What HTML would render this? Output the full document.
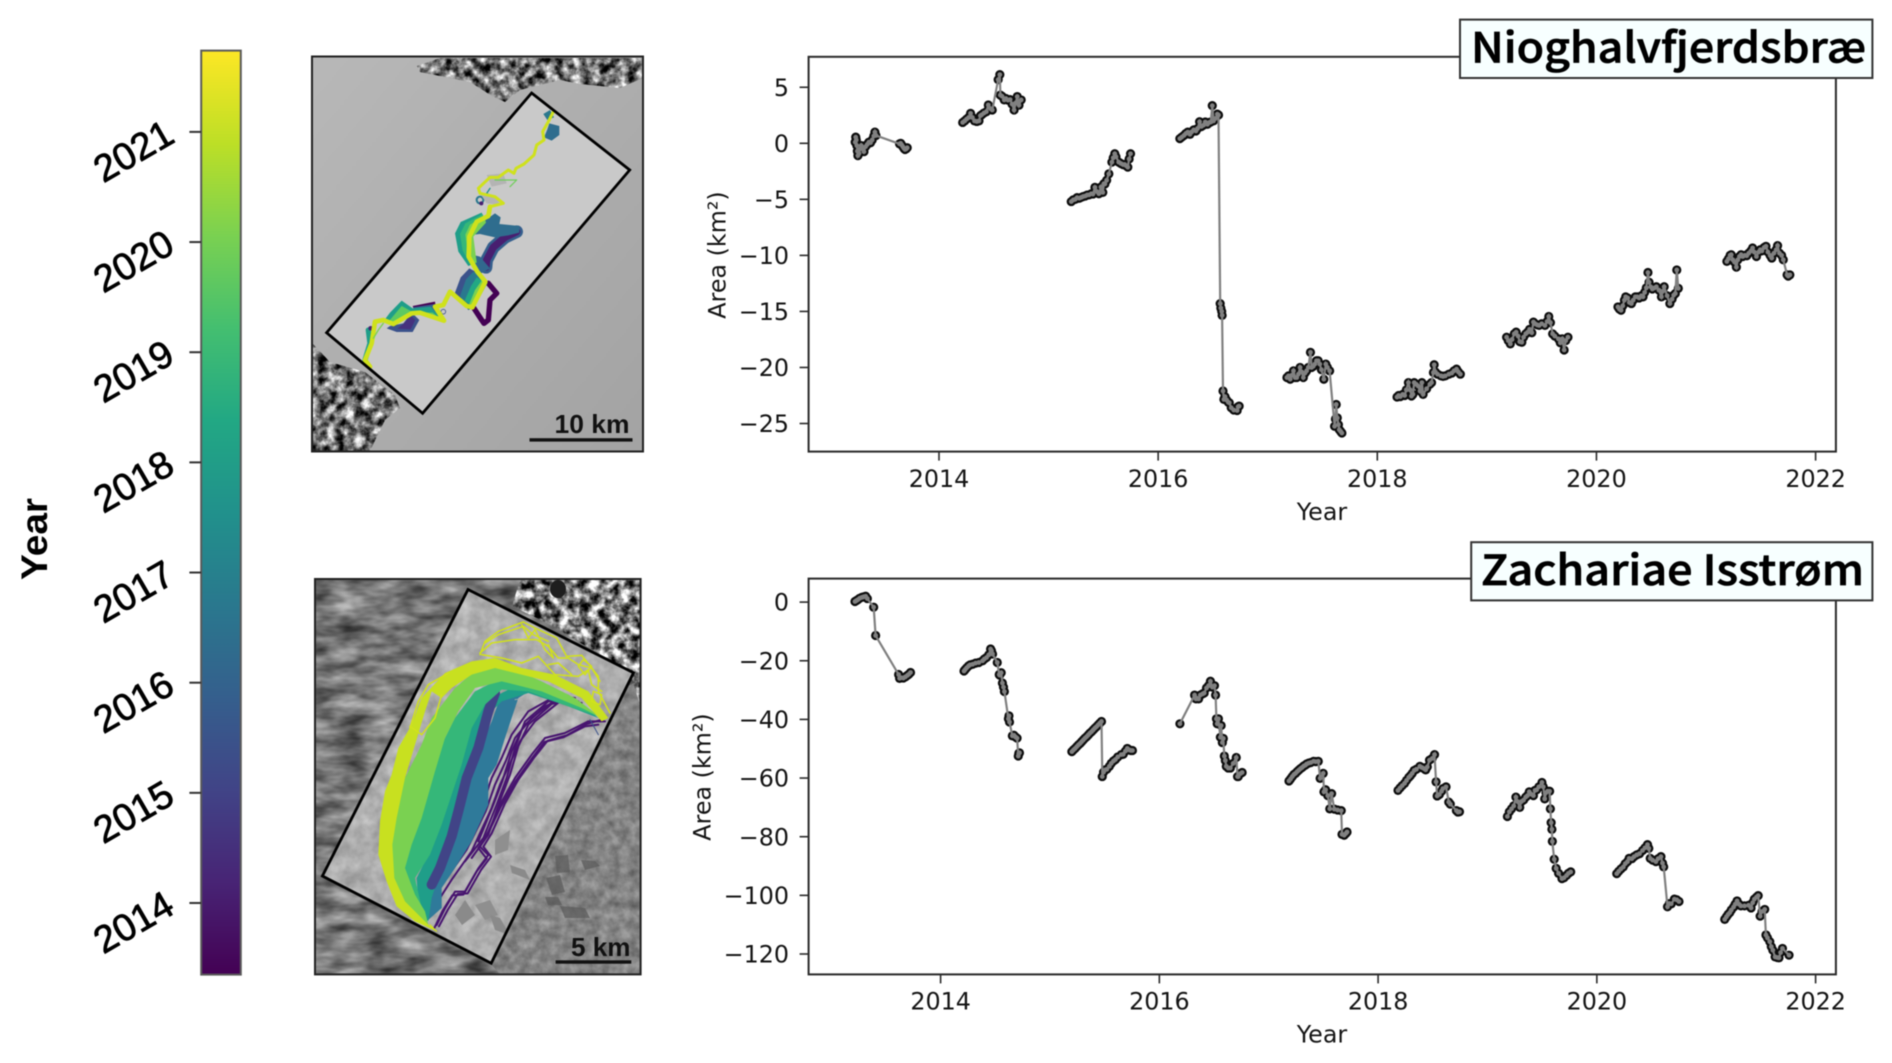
<!DOCTYPE html>
<html lang="en">
<head>
<meta charset="utf-8">
<title>Glacier area change: Nioghalvfjerdsbræ and Zachariae Isstrøm</title>
<style>
html,body{margin:0;padding:0;background:#fff;width:1892px;height:1063px;overflow:hidden}
#figure{display:block;filter:blur(.65px)}
.tick{font-family:"DejaVu Sans",sans-serif;font-size:23.8px;fill:#141414}
.cb{font-family:"Liberation Sans",sans-serif;font-size:38px;fill:#000;stroke:#000;stroke-width:.8}
.ttl{font-family:"Noto Sans CJK JP","DejaVu Sans",sans-serif;font-size:41.5px;font-weight:500;fill:#000;stroke:#000;stroke-width:.7}
.sb{font-family:"Liberation Sans",sans-serif;font-weight:700;font-size:26px;fill:#111}
</style>
</head>
<body>
<svg id="figure" xmlns="http://www.w3.org/2000/svg" width="1892" height="1063" viewBox="0 0 1892 1063">
<defs>
<linearGradient id="viridis" x1="0" y1="1" x2="0" y2="0">
<stop offset="0" stop-color="#440154"/><stop offset=".1" stop-color="#482475"/><stop offset=".2" stop-color="#414487"/><stop offset=".3" stop-color="#355f8d"/><stop offset=".4" stop-color="#2a788e"/><stop offset=".5" stop-color="#21918c"/><stop offset=".6" stop-color="#22a884"/><stop offset=".7" stop-color="#44bf70"/><stop offset=".8" stop-color="#7ad151"/><stop offset=".9" stop-color="#bddf26"/><stop offset="1" stop-color="#fde725"/>
</linearGradient>
<linearGradient id="topBg" x1="0" y1="0" x2="1" y2="1">
<stop offset="0" stop-color="#b8b8b8"/><stop offset="1" stop-color="#a3a3a3"/>
</linearGradient>
<filter id="noiseRidge" x="0" y="0" width="100%" height="100%" color-interpolation-filters="sRGB">
<feTurbulence type="fractalNoise" baseFrequency=".11" numOctaves="4" seed="4"/>
<feColorMatrix values="1.8 0 0 0 -.44  1.8 0 0 0 -.44  1.8 0 0 0 -.44  0 0 0 0 1"/>
</filter>
<filter id="noiseRidgeHard" x="0" y="0" width="100%" height="100%" color-interpolation-filters="sRGB">
<feTurbulence type="fractalNoise" baseFrequency=".1" numOctaves="4" seed="12"/>
<feColorMatrix values="2.3 0 0 0 -.66  2.3 0 0 0 -.66  2.3 0 0 0 -.66  0 0 0 0 1"/>
</filter>
<filter id="noiseStreak" x="0" y="0" width="100%" height="100%" color-interpolation-filters="sRGB">
<feTurbulence type="fractalNoise" baseFrequency=".03 .08" numOctaves="3" seed="9"/>
<feColorMatrix values=".75 0 0 0 .09  .75 0 0 0 .09  .75 0 0 0 .09  0 0 0 0 1"/>
</filter>
<filter id="noiseInner" x="0" y="0" width="100%" height="100%" color-interpolation-filters="sRGB">
<feTurbulence type="fractalNoise" baseFrequency=".07" numOctaves="3" seed="2"/>
<feColorMatrix values=".28 0 0 0 .54  .28 0 0 0 .54  .28 0 0 0 .54  0 0 0 0 1"/>
</filter>
<filter id="noiseSE" x="0" y="0" width="100%" height="100%" color-interpolation-filters="sRGB">
<feTurbulence type="fractalNoise" baseFrequency=".1" numOctaves="3" seed="6"/>
<feColorMatrix values=".35 0 0 0 .34  .35 0 0 0 .34  .35 0 0 0 .34  0 0 0 0 1"/>
</filter>
<clipPath id="clipTop"><polygon points="531.6,93 629.7,170 422.6,413.3 326.6,332.7"/></clipPath>
<clipPath id="clipBot"><polygon points="468,589.5 633.5,672.8 491.2,963.2 322.4,876"/></clipPath>
<clipPath id="clipRidgeA"><polygon points="417,66 440,58 643,58 643,78 620,88 580,84 560,80 520,90 505,102 492,96 470,82 440,76 420,72"/></clipPath>
<clipPath id="clipRidgeB"><polygon points="313,344 330,362 365,372 395,395 400,408 385,420 370,451 313,451"/></clipPath>
<clipPath id="clipRidgeC"><polygon points="520,580 640,580 640,705 630,672 545,622 512,606"/></clipPath>
<clipPath id="clipSE"><polygon points="640,680 640,974 500,974 490,963 620,690"/></clipPath>
</defs>
<rect x="0" y="0" width="1892" height="1063" fill="#ffffff"/>

<g id="colorbar">
<rect x="201.2" y="50.6" width="39.6" height="924" fill="url(#viridis)" stroke="#5a5a5a" stroke-width="2"/>
<text transform="translate(47,539) rotate(-90)" text-anchor="middle" font-family="Liberation Sans, sans-serif" font-weight="700" font-size="37" fill="#000" textLength="82" lengthAdjust="spacingAndGlyphs">Year</text>
</g>

<g id="top-map">
<rect x="312" y="56" width="331" height="396" fill="url(#topBg)"/>
<rect x="312" y="56" width="331" height="396" filter="url(#noiseRidge)" clip-path="url(#clipRidgeA)"/>
<rect x="312" y="340" width="110" height="112" filter="url(#noiseRidge)" clip-path="url(#clipRidgeB)"/>
<polygon points="531.6,93 629.7,170 422.6,413.3 326.6,332.7" fill="#c9c9c9"/>
<g clip-path="url(#clipTop)">
<g transform="translate(340,90) scale(.33333)" fill="none" stroke-linejoin="round" stroke-linecap="round">
<polygon points="610,72 630,60 642,82 622,90" fill="#2a788e"/>
<polygon points="628,100 658,108 658,135 635,152 612,142 622,118" fill="#2f6d8e"/>
<circle cx="420" cy="330" r="10" stroke="#2a788e" stroke-width="6"/>
<circle cx="424" cy="340" r="6" fill="#481f70"/>
<polygon points="440,255 490,250 500,280 455,290" fill="#b4b4b4"/>
<polygon points="420,310 470,320 480,345 440,340" fill="#b4b4b4"/>
<polyline points="465,270 530,270 510,290" stroke="#6ece58" stroke-width="3.5"/>
<polyline points="450,295 440,310 455,320" stroke="#21918c" stroke-width="4"/>
<polyline points="530,425 495,442 460,472 440,510 438,532" stroke="#355f8d" stroke-width="38"/>
<polyline points="530,425 495,442 460,472 440,510 438,532" stroke="#481f70" stroke-width="22"/>
<polygon points="392,435 415,405 465,370 482,382 478,402 538,408 538,428 505,436 465,442 420,432" fill="#2f6d8e"/>
<polygon points="396,494 420,500 450,535 420,552 400,532" fill="#31688e"/>
<polygon points="425,368 362,396 345,430 355,485 385,528 410,518 396,440 436,395" fill="#1f9e89"/>
<polygon points="428,372 376,400 360,432 368,482 392,524 410,518 398,440 436,396" fill="#35b779"/>
<polygon points="432,378 390,404 376,434 382,478 398,520 410,518 400,440 438,398" fill="#7ad151"/>
<polyline points="400,652 425,690 432,700 445,690 450,630 470,610 445,580" stroke="#440154" stroke-width="16"/>
<polygon points="345,608 362,562 388,535 412,548 442,580 402,652 385,660" fill="#3b528b"/>
<polygon points="360,618 378,568 400,545 422,555 442,580 402,652 385,660" fill="#2a788e"/>
<polygon points="374,632 393,588 410,562 442,580 402,652" fill="#22a884"/>
<polygon points="388,642 405,600 425,572 442,580 402,652" fill="#7ad151"/>
<polygon points="218,648 285,635 288,656 225,665" fill="#440154"/>
<polygon points="140,715 170,726 218,726 238,690 215,668 190,700 150,708" fill="#3b528b"/>
<polygon points="172,716 212,718 226,690 212,676 190,702" fill="#46327e"/>
<polygon points="218,652 285,642 306,690 235,668" fill="#355f8d"/>
<polygon points="132,692 150,668 185,632 218,655 272,650 310,694 240,670 215,672 165,704" fill="#1f9e89"/>
<polygon points="148,692 185,648 218,666 278,668 310,694 240,672 215,674 168,704" fill="#5ec962"/>
<polyline points="85,720 90,760 75,810" stroke="#1f9e89" stroke-width="16"/>
<circle cx="92" cy="715" r="7" fill="#481f70"/>
<circle cx="310" cy="665" r="7" stroke="#3b528b" stroke-width="2.5"/>
<polyline points="640,65 625,95 608,125 612,150 590,165 582,195 552,222 528,235 522,250 505,240 475,262 450,262 415,295 420,310 465,320 490,340 450,350" stroke="#cfe11c" stroke-width="9"/>
<polyline points="450,350 445,378 410,395 388,440 386,500 412,545 436,575 397,652 380,648 330,605 310,645 285,650 312,692 240,668 215,670 160,702 130,690 105,695 95,760 75,810 90,830" stroke="#cfe11c" stroke-width="14"/>
<polyline points="130,700 115,720 100,745" stroke="#7ad151" stroke-width="4"/>
</g>
</g>
<polygon points="531.6,93 629.7,170 422.6,413.3 326.6,332.7" fill="none" stroke="#000" stroke-width="2.8"/>
<rect x="312" y="56.5" width="331" height="395" fill="none" stroke="#222" stroke-width="2"/>
<text class="sb" x="554.5" y="433" textLength="75" lengthAdjust="spacingAndGlyphs">10 km</text>
<rect x="529.5" y="438.2" width="103" height="3.4" fill="#111"/>
</g>

<g id="bottom-map">
<rect x="315" y="579" width="326" height="396" filter="url(#noiseStreak)"/>
<rect x="490" y="680" width="151" height="295" filter="url(#noiseSE)" clip-path="url(#clipSE)"/>
<rect x="510" y="579" width="131" height="130" filter="url(#noiseRidgeHard)" clip-path="url(#clipRidgeC)"/>
<ellipse cx="558" cy="589" rx="8" ry="9" fill="#1e1e1e"/>
<g fill="#5c5c5c" opacity=".75">
<polygon points="555,856 568,855 570,872 557,873"/>
<polygon points="581,860 595,861 600,866 585,870"/>
<polygon points="546,878 560,875 565,892 552,895"/>
<polygon points="560,906 585,908 590,918 565,918"/>
<polygon points="545,897 558,897 562,905 548,905"/>
</g>
<polygon points="468,589.5 633.5,672.8 491.2,963.2 322.4,876" fill="#aaa"/>
<rect x="320" y="585" width="316" height="382" filter="url(#noiseInner)" clip-path="url(#clipBot)"/>
<g clip-path="url(#clipBot)">
<polygon points="495,840 510,830 508,850 495,855" fill="#8f8f8f"/>
<polygon points="510,865 525,870 530,880 512,873" fill="#8a8a8a"/>
<polygon points="455,915 465,900 475,915 462,925" fill="#8a8a8a"/>
<polygon points="475,905 490,900 498,915 485,920" fill="#8f8f8f"/>
<polygon points="490,915 500,918 510,935 495,930" fill="#8a8a8a"/>
</g>
<g clip-path="url(#clipBot)">
<g transform="translate(315,578) scale(.33333)" fill="none" stroke-linejoin="round" stroke-linecap="round">
<g stroke="#47146f" stroke-width="6">
<polyline points="780,360 720,355 640,400 590,470 560,540 530,600 500,691 440,811 380,891 350,931"/>
<polyline points="790,370 725,362 650,420 600,480 572,550 540,620 512,700 455,815 395,900 360,950"/>
<polyline points="800,375 735,370 660,430 615,490 590,545 555,620 530,690 470,820 410,905 375,960"/>
<polyline points="760,365 700,370 630,430 600,510 575,600 545,680 505,780 450,850"/>
<polyline points="770,362 710,378 640,440 610,505 585,590 558,660 520,770 470,840"/>
<polyline points="750,360 690,385 625,445 590,520 562,610 535,680 490,790"/>
<polyline points="870,430 820,430 750,465 690,480 650,530 600,600 560,671 520,761 495,806 520,831 490,871 450,941 420,941 390,991 365,1041"/>
<polyline points="860,425 815,438 755,472 698,488 658,538 610,605 570,676 530,766 505,806 528,836 498,876 458,946 428,948 398,996 372,1045"/>
<polyline points="850,440 810,445 745,478 688,492 648,545 600,612 558,685 515,775 490,810 515,842 485,880 445,950 412,952 382,1000 358,1050"/>
</g>
<polyline points="825,425 850,470" stroke="#3b528b" stroke-width="3"/>
<polygon points="335,1030 335,985 320,930 350,890 385,830 420,770 440,680 460,600 500,500 530,430 555,360 640,320 760,350 850,420 760,375 650,335 610,360 590,420 570,480 545,560 520,600 520,680 470,790 420,870 380,930 380,990" fill="#2f7a9a"/>
<polyline points="600,365 630,360 640,375 610,385" stroke="#aaa" stroke-width="2.5"/>
<polygon points="340,1030 310,990 305,900 340,830 340,700 400,590 430,520 470,420 520,365 600,325 700,345 800,380 850,420 760,385 640,345 560,370 530,400 490,510 450,610 420,730 410,800 375,880 350,960" fill="#1f9e89"/>
<polyline points="540,345 520,400 490,510 455,600 430,700 410,775 375,870 350,920" stroke="#414487" stroke-width="30"/>
<polygon points="330,1030 300,980 265,900 265,860 300,750 330,640 370,520 420,420 480,340 560,300 660,330 760,370 850,415 760,385 640,340 560,335 510,380 470,450 440,560 410,650 380,740 345,830 300,900 320,990" fill="#35b779"/>
<polygon points="340,1040 290,1000 240,950 225,890 225,800 235,720 270,600 320,500 350,420 420,330 490,270 580,265 680,310 780,360 860,420 800,390 680,340 560,310 480,330 430,400 390,480 360,580 320,720 290,800 270,870 300,950 330,1000" fill="#7ad151"/>
<polygon points="360,1058 300,1030 245,985 215,910 190,830 195,730 210,640 230,590 250,510 290,440 320,360 390,285 470,250 540,240 620,270 720,290 820,340 880,420 860,430 800,360 700,310 620,290 540,270 470,290 410,330 380,360 350,340 330,400 300,500 270,600 245,720 232,800 238,900 270,970 330,1030" fill="#c8e020"/>
<g stroke="#d2e21b" stroke-width="4.5">
<polyline points="495,230 510,190 550,160 625,132 660,150 725,180 755,235 800,232 850,295 850,340 885,405"/>
<polyline points="495,225 530,195 600,185 665,185 700,205 730,240 760,240 790,260 830,270 855,310"/>
<polyline points="510,195 550,170 625,145 655,170 700,190"/>
<polyline points="620,140 640,180 660,155 690,215 715,240 700,200"/>
<polyline points="500,230 560,240 620,255 670,235 720,290 790,295 820,275 830,320 860,340"/>
<polyline points="700,260 730,255 770,290"/>
<polyline points="285,450 310,370 340,320 400,285"/>
<polyline points="285,445 320,470 360,420 380,350"/>
<polygon points="805,245 830,265 810,290 790,265"/>
<polygon points="835,340 860,350 855,380 830,370"/>
</g>
<polyline points="345,1040 365,1060 345,1045" stroke="#d2e21b" stroke-width="3"/>
</g>
</g>
<polygon points="468,589.5 633.5,672.8 491.2,963.2 322.4,876" fill="none" stroke="#000" stroke-width="2.8"/>
<rect x="315" y="579" width="325.6" height="395.4" fill="none" stroke="#222" stroke-width="2"/>
<text class="sb" x="571" y="956" textLength="59.5" lengthAdjust="spacingAndGlyphs">5 km</text>
<rect x="555.6" y="960.3" width="75.7" height="3.4" fill="#111"/>
</g>

<g id="top-chart"></g>
<g id="bottom-chart"></g>

<g>
<rect x="1460" y="19.6" width="412.4" height="58.4" fill="#f7ffff" stroke="#333" stroke-width="2"/>
<text class="ttl" x="1471" y="62.5" textLength="395" lengthAdjust="spacingAndGlyphs">Nioghalvfjerdsbræ</text>
</g>
<g>
<rect x="1471.2" y="542.2" width="401.2" height="58.2" fill="#f7ffff" stroke="#333" stroke-width="2"/>
<text class="ttl" x="1481" y="585" textLength="383" lengthAdjust="spacingAndGlyphs">Zachariae Isstrøm</text>
</g>
</svg>

<script>
// Chart data. A gap of more than 0.3 yr between dates starts a new melt season.
const colorbarYears = [2014, 2015, 2016, 2017, 2018, 2019, 2020, 2021];
const xTickYears = [2014, 2016, 2018, 2020, 2022];
const nioYTicks = [5, 0, -5, -10, -15, -20, -25];
const zachYTicks = [0, -20, -40, -60, -80, -100, -120];

const nioDates = [
2013.235,2013.24,2013.245,2013.25,2013.255,2013.26,2013.27,2013.28,2013.29,2013.30,2013.315,2013.33,2013.345,2013.36,2013.375,2013.39,2013.405,2013.415,2013.425,2013.64,2013.65,2013.66,2013.67,2013.68,2013.69,2013.70,2013.71,
2014.216,2014.235,2014.252,2014.27,2014.288,2014.305,2014.324,2014.345,2014.365,2014.378,2014.39,2014.41,2014.432,2014.45,2014.468,2014.486,2014.54,2014.555,2014.56,2014.575,2014.595,2014.61,2014.63,2014.649,2014.667,2014.685,2014.70,2014.714,2014.73,2014.75,
2015.207,2015.225,2015.243,2015.26,2015.28,2015.297,2015.315,2015.335,2015.351,2015.37,2015.39,2015.405,2015.423,2015.44,2015.459,2015.478,2015.495,2015.505,2015.514,2015.53,2015.55,2015.578,2015.59,2015.604,2015.615,2015.64,2015.66,2015.68,2015.694,2015.708,2015.723,2015.735,2015.748,
2016.198,2016.215,2016.235,2016.252,2016.27,2016.29,2016.306,2016.325,2016.345,2016.36,2016.378,2016.395,2016.414,2016.43,2016.45,2016.468,2016.48,2016.494,2016.505,2016.523,2016.54,2016.551,2016.566,2016.572,2016.58,2016.584,2016.592,2016.60,2016.61,2016.625,2016.64,2016.649,2016.667,2016.69,2016.721,2016.73,2016.739,
2017.175,2017.19,2017.205,2017.22,2017.235,2017.25,2017.265,2017.28,2017.295,2017.31,2017.325,2017.34,2017.355,2017.37,2017.39,2017.40,2017.415,2017.43,2017.445,2017.46,2017.475,2017.49,2017.512,2017.53,2017.545,2017.565,2017.61,2017.618,2017.625,2017.635,2017.645,2017.653,2017.665,2017.677,
2018.18,2018.195,2018.21,2018.232,2018.25,2018.265,2018.284,2018.30,2018.312,2018.325,2018.337,2018.355,2018.372,2018.39,2018.407,2018.418,2018.45,2018.48,2018.495,2018.512,2018.519,2018.53,2018.55,2018.582,2018.60,2018.62,2018.653,2018.68,2018.70,2018.723,2018.74,2018.758,
2019.18,2019.195,2019.214,2019.23,2019.25,2019.267,2019.285,2019.30,2019.319,2019.335,2019.355,2019.372,2019.39,2019.41,2019.425,2019.44,2019.46,2019.477,2019.50,2019.53,2019.55,2019.565,2019.58,2019.60,2019.62,2019.653,2019.67,2019.688,2019.705,2019.72,2019.74,
2020.196,2020.21,2020.225,2020.24,2020.255,2020.267,2020.285,2020.30,2020.319,2020.335,2020.355,2020.372,2020.39,2020.41,2020.425,2020.44,2020.455,2020.47,2020.48,2020.495,2020.51,2020.53,2020.547,2020.57,2020.593,2020.605,2020.618,2020.645,2020.67,2020.69,2020.705,2020.72,2020.733,2020.747,
2021.19,2021.205,2021.22,2021.23,2021.245,2021.26,2021.277,2021.29,2021.305,2021.32,2021.335,2021.355,2021.372,2021.39,2021.41,2021.425,2021.44,2021.46,2021.48,2021.495,2021.51,2021.53,2021.547,2021.565,2021.585,2021.60,2021.62,2021.64,2021.653,2021.67,2021.69,2021.705,2021.74,2021.75,2021.765
];
const nioAreas = [
0.1,0.55,0.3,-0.2,-0.7,-1.1,-0.9,-0.5,-0.2,-0.45,-0.75,-0.3,-0.1,0.1,0.05,0.3,0.65,1.0,0.7,-0.05,0.0,-0.15,-0.3,-0.45,-0.55,-0.5,-0.4,
1.86,2.0,2.16,2.3,2.67,2.3,2.0,1.95,2.0,2.46,2.55,2.7,2.82,3.42,3.1,2.97,5.68,6.13,4.3,4.2,3.87,4.0,3.85,3.9,3.5,2.97,3.6,4.17,3.4,3.87,
-5.2,-5.05,-5.0,-4.85,-4.9,-4.83,-4.75,-4.7,-4.62,-4.6,-4.5,-4.53,-3.93,-4.3,-4.5,-3.9,-4.38,-3.6,-3.63,-3.3,-2.73,-1.68,-1.3,-0.93,-1.2,-1.68,-1.8,-1.9,-1.89,-2.0,-2.13,-1.4,-0.93,
0.42,0.55,0.7,0.87,1.0,0.8,1.02,1.2,1.1,1.32,1.92,1.5,1.62,1.9,1.7,1.86,1.9,3.36,2.0,2.22,2.6,2.52,-14.3,-14.7,-15.0,-15.35,-22.1,-22.85,-22.6,-22.9,-23.1,-23.15,-23.6,-23.8,-23.84,-23.5,-23.45,
-20.9,-20.75,-21.05,-20.7,-20.3,-20.9,-20.9,-20.6,-20.0,-20.4,-20.9,-20.5,-20.3,-20.0,-18.65,-20.0,-19.9,-19.7,-19.4,-19.4,-19.7,-20.2,-21.05,-19.7,-20.0,-20.3,-25.25,-24.6,-23.3,-24.5,-25.1,-25.55,-25.7,-25.85,
-22.64,-22.5,-22.6,-22.4,-22.5,-22.0,-21.35,-22.0,-22.55,-22.4,-21.35,-21.5,-21.65,-22.1,-21.35,-22.4,-21.9,-21.5,-21.35,-20.45,-19.76,-20.4,-20.6,-20.75,-20.8,-20.75,-20.6,-20.5,-20.3,-20.15,-20.4,-20.6,
-17.3,-17.6,-17.9,-17.5,-17.0,-16.85,-17.2,-17.7,-17.75,-17.3,-17.0,-16.85,-16.6,-16.9,-15.95,-16.1,-16.2,-16.25,-16.1,-16.25,-15.9,-15.45,-16.0,-17.0,-17.2,-17.45,-17.8,-17.45,-18.44,-17.6,-17.3,
-14.6,-14.8,-14.9,-14.5,-14.0,-13.7,-13.8,-14.2,-14.3,-14.0,-13.7,-13.7,-13.8,-13.6,-13.7,-13.3,-12.9,-11.53,-12.4,-12.8,-13.0,-12.9,-12.8,-13.1,-13.7,-13.2,-12.8,-13.6,-14.3,-13.9,-13.55,-13.4,-11.3,-12.94,
-10.54,-10.3,-10.0,-9.94,-10.4,-10.6,-11.05,-10.4,-10.1,-9.94,-10.1,-10.0,-10.03,-9.8,-9.6,-9.34,-9.7,-10.1,-9.7,-9.5,-9.6,-9.3,-9.19,-9.7,-10.0,-10.24,-9.8,-9.5,-9.13,-9.8,-10.0,-10.39,-11.74,-11.85,-11.74
];

const zachDates = [
2013.217,2013.23,2013.243,2013.26,2013.279,2013.297,2013.315,2013.33,2013.388,2013.406,2013.616,2013.625,2013.641,2013.66,2013.678,2013.696,2013.71,2013.725,
2014.214,2014.225,2014.239,2014.255,2014.27,2014.293,2014.32,2014.35,2014.384,2014.40,2014.42,2014.44,2014.457,2014.465,2014.475,2014.518,2014.536,2014.54,2014.554,2014.565,2014.575,2014.583,2014.62,2014.625,2014.63,2014.656,2014.67,2014.685,2014.699,2014.71,2014.715,2014.721,
2015.2,2015.215,2015.23,2015.245,2015.26,2015.275,2015.29,2015.305,2015.32,2015.335,2015.35,2015.365,2015.38,2015.395,2015.41,2015.425,2015.44,2015.455,2015.471,2015.478,2015.49,2015.505,2015.52,2015.543,2015.56,2015.58,2015.598,2015.62,2015.652,2015.67,2015.69,2015.707,2015.725,2015.74,2015.754,
2016.188,2016.322,2016.335,2016.345,2016.359,2016.375,2016.395,2016.41,2016.431,2016.45,2016.467,2016.485,2016.504,2016.514,2016.522,2016.529,2016.54,2016.558,2016.565,2016.576,2016.585,2016.594,2016.603,2016.612,2016.63,2016.649,2016.675,2016.703,2016.715,2016.721,2016.74,2016.757,
2017.185,2017.2,2017.215,2017.23,2017.245,2017.26,2017.275,2017.29,2017.305,2017.32,2017.335,2017.347,2017.365,2017.385,2017.41,2017.43,2017.453,2017.47,2017.498,2017.505,2017.52,2017.54,2017.558,2017.575,2017.6,2017.63,2017.663,2017.67,2017.69,2017.705,2017.716,
2018.182,2018.2,2018.22,2018.242,2018.26,2018.28,2018.295,2018.312,2018.33,2018.35,2018.382,2018.40,2018.42,2018.435,2018.45,2018.47,2018.495,2018.516,2018.53,2018.54,2018.56,2018.58,2018.593,2018.621,2018.646,2018.66,2018.716,2018.73,2018.744,
2019.182,2019.2,2019.22,2019.24,2019.26,2019.275,2019.295,2019.31,2019.33,2019.35,2019.365,2019.382,2019.40,2019.42,2019.435,2019.45,2019.47,2019.498,2019.51,2019.523,2019.535,2019.55,2019.568,2019.575,2019.582,2019.589,2019.593,2019.61,2019.628,2019.65,2019.681,2019.70,2019.723,2019.74,2019.761,
2020.182,2020.2,2020.22,2020.242,2020.26,2020.28,2020.295,2020.32,2020.34,2020.365,2020.39,2020.418,2020.44,2020.463,2020.475,2020.488,2020.51,2020.54,2020.56,2020.586,2020.6,2020.611,2020.646,2020.663,2020.68,2020.709,2020.73,2020.751,
2021.169,2021.185,2021.2,2021.215,2021.229,2021.25,2021.265,2021.282,2021.3,2021.317,2021.35,2021.387,2021.41,2021.425,2021.44,2021.46,2021.475,2021.493,2021.51,2021.535,2021.546,2021.56,2021.581,2021.595,2021.609,2021.63,2021.651,2021.665,2021.68,2021.697,2021.757
];
const zachAreas = [
0.2,0.5,0.8,1.3,1.6,1.8,2.0,1.2,-1.74,-11.4,-24.7,-26,-25.8,-25.9,-25.5,-25,-24.6,-24,
-23.5,-23,-22.4,-21.8,-21.4,-21.2,-20.8,-20.6,-20,-19.4,-18.9,-18,-16,-16.6,-17.7,-20.6,-24.7,-24.9,-24.1,-27.6,-29,-30.5,-39.8,-38.8,-40.9,-45.6,-45.4,-46,-46.4,-52.5,-51.6,-51.4,
-51,-50.4,-49.9,-49.3,-48.7,-48.2,-47.6,-47,-46.4,-45.9,-45.3,-44.7,-44.2,-43.6,-43,-42.5,-41.9,-41.3,-40.7,-59.5,-58,-57.2,-57,-56,-55,-54.2,-53.7,-52.8,-52,-51.9,-50.8,-49.9,-50.4,-50.6,-50.6,
-41.5,-31.7,-33,-32.8,-33,-31.7,-31.3,-31,-29.3,-28.5,-27,-29,-28.5,-31.7,-39.8,-41.5,-39.8,-46.1,-42.1,-47.9,-46.5,-52.5,-54,-56,-56.6,-56.6,-55,-53,-59.5,-59.5,-58.5,-58.1,
-61,-60.3,-59.5,-58.8,-58.4,-57.8,-57.3,-56.8,-56.4,-55.9,-55.6,-55.2,-54.9,-54.7,-54.3,-54.4,-54.3,-60.1,-58.4,-64.7,-64,-66,-70.5,-65.3,-70.6,-70.9,-71.1,-79.2,-79.5,-78.9,-78.4,
-64.2,-63.4,-62.6,-61.8,-60.8,-59.8,-59.2,-58.4,-57.4,-57,-56,-56.4,-56.8,-57.2,-56.2,-53.9,-53.3,-52,-61.3,-66.1,-65.6,-64.5,-63.6,-63,-68.2,-68.9,-71.1,-71.6,-71.5,
-73.1,-71.5,-70.5,-69.5,-66.5,-68,-70,-68,-67.5,-66.5,-66,-64.7,-65.5,-66,-64.2,-64,-63,-61.5,-63,-67.1,-65,-64.5,-64.5,-70.5,-75.2,-77.5,-81.6,-87.7,-90.8,-92.5,-94.3,-94,-93.2,-92.5,-92,
-92.6,-91.8,-91,-90.3,-89.2,-88.5,-87.4,-87.5,-86.8,-86.2,-85.8,-84.7,-83.8,-82.7,-84,-87.4,-88,-88.5,-87.5,-86.8,-89,-90.3,-103.9,-102.8,-102.9,-101.3,-101.5,-102.1,
-108.2,-107.3,-106.5,-105.9,-105,-104,-103,-101.9,-103,-103.6,-103.6,-103.4,-104.3,-102.5,-101.3,-100.6,-100.1,-107.1,-105.5,-104.8,-113.5,-114.5,-115.8,-117.5,-118.7,-121,-121.2,-121.3,-119.5,-118.1,-120.4
];

const SVGNS = 'http://www.w3.org/2000/svg';
function make(parent, tag, props, text) {
  const el = document.createElementNS(SVGNS, tag);
  for (const k in props) el.setAttribute(k, props[k]);
  if (text !== undefined) el.textContent = text;
  parent.appendChild(el);
  return el;
}
function linear(d0, r0, d1, r1) {
  return function (v) { return r0 + (v - d0) * (r1 - r0) / (d1 - d0); };
}
function fmt(v) { return String(v).replace('-', '\u2212'); }

// Colour bar ticks and labels
const cbY = linear(2014, 903, 2021, 131.9);
const cbGroup = document.getElementById('colorbar');
colorbarYears.forEach(function (yr) {
  const t = make(cbGroup, 'line', {x1: 189.4, x2: 201.2, y1: cbY(yr), y2: cbY(yr), stroke: '#333', 'stroke-width': 2});
  
  
  const lab = make(cbGroup, 'text', {class: 'cb', 'text-anchor': 'middle', 'dominant-baseline': 'central', transform: 'translate(134,' + (cbY(yr) + 20) + ') rotate(-30)'}, String(yr));
  
  
});

function drawChart(cfg) {
  const g = document.getElementById(cfg.id);
  const xOf = cfg.xOf, yOf = cfg.yOf;
  const frame = make(g, 'rect', {x: cfg.left, y: cfg.top, width: cfg.right - cfg.left, height: cfg.bottom - cfg.top, fill: '#fff', stroke: '#2a2a2a', 'stroke-width': 2});
  
  

  xTickYears.forEach(function (yr) {
    const t = make(g, 'line', {x1: xOf(yr), x2: xOf(yr), y1: cfg.bottom, y2: cfg.bottom + 9, stroke: '#2a2a2a', 'stroke-width': 1.6});
    
    
    const l = make(g, 'text', {class: 'tick', x: xOf(yr), y: cfg.xLabelY, 'text-anchor': 'middle'}, String(yr));
    
    
  });
  cfg.yTicks.forEach(function (v) {
    const t = make(g, 'line', {x1: cfg.left - 9, x2: cfg.left, y1: yOf(v), y2: yOf(v), stroke: '#2a2a2a', 'stroke-width': 1.6});
    
    
    const l = make(g, 'text', {class: 'tick', x: 789, y: yOf(v) + 8.6, 'text-anchor': 'end'}, fmt(v));
    
    
  });
  const xt = make(g, 'text', {class: 'tick', x: 1322, y: cfg.xTitleY, 'text-anchor': 'middle'}, 'Year');
  
  
  const yt = make(g, 'text', {class: 'tick', 'text-anchor': 'middle', transform: 'translate(' + cfg.yTitleX + ',' + cfg.yTitleY + ') rotate(-90)'}, 'Area (km\u00B2)');
  
  

  // split into melt seasons wherever the time gap is long
  const seasons = [];
  let cur = [];
  cfg.dates.forEach(function (d, i) {
    if (i > 0 && d - cfg.dates[i - 1] > 0.3) { seasons.push(cur); cur = []; }
    cur.push([d, cfg.areas[i]]);
  });
  seasons.push(cur);

  seasons.forEach(function (pts) {
    const season = make(g, 'g', {});
    
    
    pts.forEach(function (p) {
      const c = make(season, 'circle', {cx: xOf(p[0]), cy: yOf(p[1]), r: 4.6, fill: '#0c0c0c'});
      
      
    });
    pts.forEach(function (p) {
      const c = make(season, 'circle', {cx: xOf(p[0]), cy: yOf(p[1]), r: 2.4, fill: '#808080'});
      
      
    });
    const line = make(season, 'polyline', {points: pts.map(function (p) { return xOf(p[0]).toFixed(1) + ',' + yOf(p[1]).toFixed(1); }).join(' '), fill: 'none', stroke: '#808080', 'stroke-width': 2.2});
    
    
  });
}

drawChart({
  id: 'top-chart', dates: nioDates, areas: nioAreas, yTicks: nioYTicks,
  xOf: linear(2014, 939, 2022, 1815.6), yOf: linear(0, 143.3, -25, 423.5),
  left: 808.6, right: 1835.9, top: 56.8, bottom: 451.6,
  xLabelY: 487, xTitleY: 520, yTitleX: 725.6, yTitleY: 255
});
drawChart({
  id: 'bottom-chart', dates: zachDates, areas: zachAreas, yTicks: zachYTicks,
  xOf: linear(2014, 940.6, 2022, 1815.6), yOf: linear(0, 602.1, -120, 954),
  left: 808.6, right: 1835.9, top: 578.6, bottom: 974.4,
  xLabelY: 1009.5, xTitleY: 1042.7, yTitleX: 710.6, yTitleY: 777
});
</script>
</body>
</html>
